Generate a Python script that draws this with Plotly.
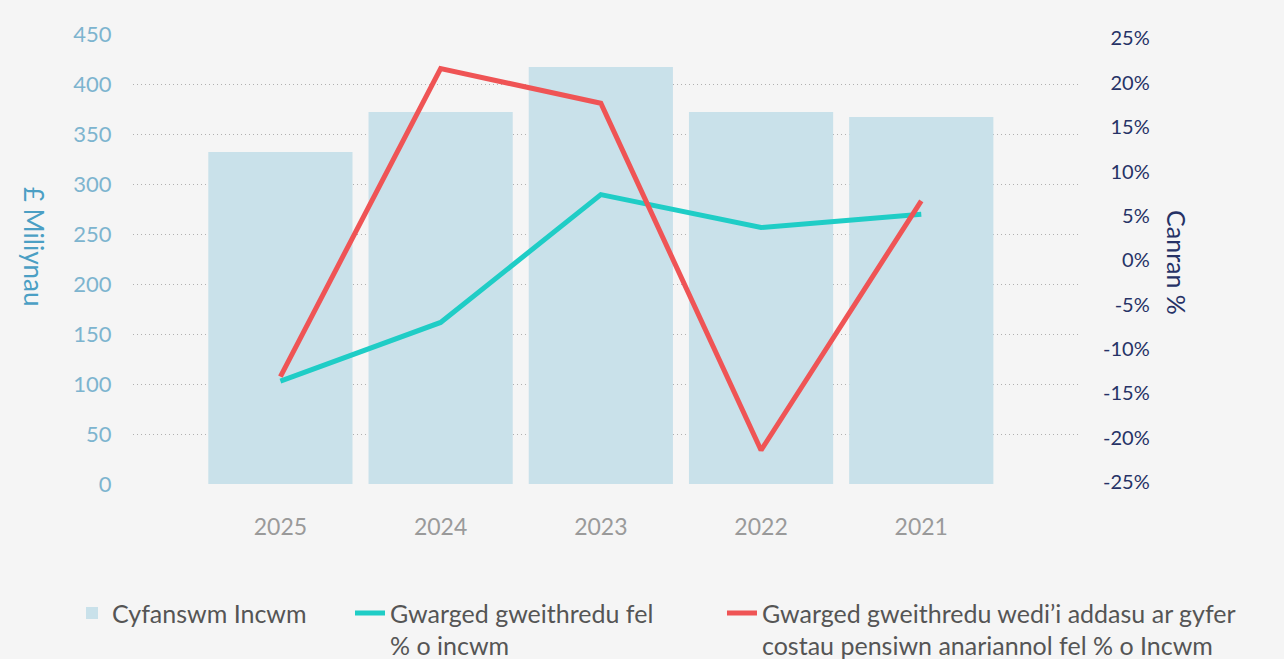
import plotly.graph_objects as go

years = ["2025", "2024", "2023", "2022", "2021"]
income = [332, 372, 417, 372, 367]            # Cyfanswm Incwm (£ miliynau)
op_surplus = [-13.6, -7.0, 7.4, 3.7, 5.2]      # Gwarged gweithredu fel % o incwm
adj_surplus = [-13.1, 21.6, 17.7, -21.4, 6.7]  # wedi'i addasu ar gyfer costau pensiwn
left_ticks = [0, 50, 100, 150, 200, 250, 300, 350, 400, 450]
right_ticks = [-25, -20, -15, -10, -5, 0, 5, 10, 15, 20, 25]

BG = "#f5f5f5"
FONT = "Lato"

fig = go.Figure()

fig.add_trace(go.Bar(
    x=years, y=income, name="Cyfanswm Incwm",
    marker=dict(color="#c9e1ea", line=dict(width=0)),
    width=0.9, legend="legend", showlegend=True,
))
fig.add_trace(go.Scatter(
    x=years, y=op_surplus, yaxis="y2", mode="lines",
    name="Gwarged gweithredu fel<br>% o incwm",
    line=dict(color="#1fcdc6", width=5), legend="legend2", showlegend=True,
))
fig.add_trace(go.Scatter(
    x=years, y=adj_surplus, yaxis="y2", mode="lines",
    name="Gwarged gweithredu wedi’i addasu ar gyfer<br>costau pensiwn anariannol fel % o Incwm",
    line=dict(color="#ef5455", width=5), legend="legend3", showlegend=True,
))

legend_font = dict(family=FONT, size=25, color="#555555")
legend_y = -0.236

fig.update_layout(
    width=1284, height=659,
    showlegend=True,
    margin=dict(l=133, r=124, t=34, b=175, autoexpand=False),
    paper_bgcolor=BG, plot_bgcolor=BG,
    font=dict(family=FONT),
    xaxis=dict(
        domain=[0, 0.922], range=[-0.92, 4.99],
        showgrid=False, zeroline=False, showline=False,
        ticks="outside", ticklen=22, tickcolor="rgba(0,0,0,0)",
        tickfont=dict(family=FONT, size=23, color="#9a9a9a"),
    ),
    yaxis=dict(
        range=[0, 450], tickvals=left_ticks,
        showgrid=True, gridcolor="#b0b0b0", griddash="1px,3px", gridwidth=1,
        zeroline=False, showline=False,
        ticks="outside", ticklen=16, tickcolor="rgba(0,0,0,0)",
        tickfont=dict(family=FONT, size=22, color="#7db4cf"),
    ),
    yaxis2=dict(
        overlaying="y", side="left", anchor="free", position=0.99,
        range=[-25.2, 25.5], tickvals=right_ticks,
        ticktext=[f"{v}%" for v in right_ticks],
        showgrid=False, zeroline=False, showline=False,
        tickfont=dict(family=FONT, size=20, color="#263266"),
    ),
    legend=dict(
        orientation="h", x=-0.0594, y=legend_y, xanchor="left", yanchor="top",
        font=legend_font, bgcolor="rgba(0,0,0,0)", valign="top",
    ),
    legend2=dict(
        orientation="h", x=0.2113, y=legend_y, xanchor="left", yanchor="top",
        font=legend_font, bgcolor="rgba(0,0,0,0)", valign="top",
    ),
    legend3=dict(
        orientation="h", x=0.5735, y=legend_y, xanchor="left", yanchor="top",
        font=legend_font, bgcolor="rgba(0,0,0,0)", valign="top",
    ),
)

fig.add_annotation(
    text="£ Miliynau", textangle=90, showarrow=False,
    xref="paper", yref="paper", x=-0.0964, y=0.527,
    xanchor="center", yanchor="middle",
    font=dict(family=FONT, size=26, color="#4b9fc4"),
)
fig.add_annotation(
    text="Canran %", textangle=90, showarrow=False,
    xref="paper", yref="paper", x=1.0166, y=0.493,
    xanchor="center", yanchor="middle",
    font=dict(family=FONT, size=25, color="#263266"),
)

fig.write_html(
    "out.html",
    config={"displayModeBar": False},
    post_script="document.body.style.margin='0';",
)
